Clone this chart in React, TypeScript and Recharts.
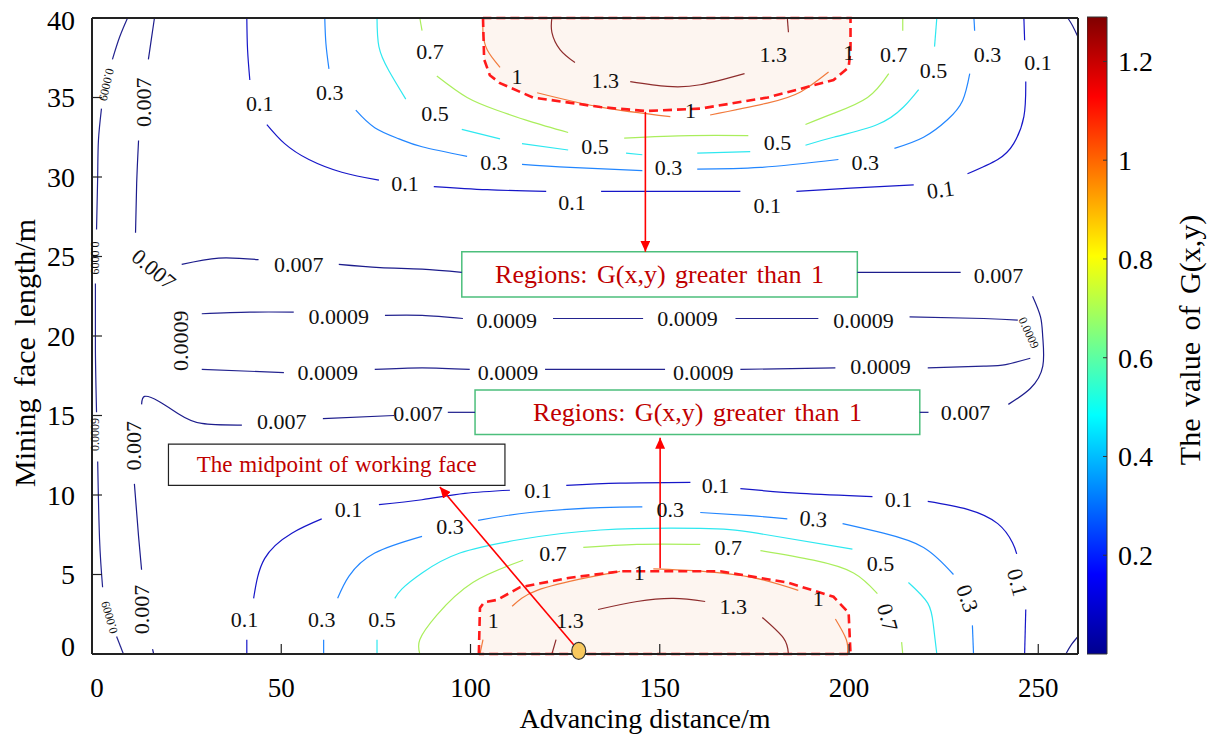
import React from 'react';
import {
  ComposedChart, BarChart, Bar, Line, Area, Scatter, XAxis, YAxis, ReferenceArea,
} from 'recharts';

type Pt = [number, number];
type Lab = [number, number, number];

const serif = '"Liberation Serif", "Times New Roman", serif';

const xTicks = [0, 50, 100, 150, 200, 250];
const yTicks = [0, 5, 10, 15, 20, 25, 30, 35, 40];
const colorTicks = [0.2, 0.4, 0.6, 0.8, 1, 1.2];
const xMax = 260.5;
const yMax = 40;
const colorMax = 1.29;

// contour pieces (advancing distance, face length)
const lines0009: Pt[][] = [
  [[9.4, 40], [7.3, 38.8], [5.4, 37.4]],
  [[2.5, 34.3], [1.7, 32.3], [1.5, 30.0], [1.2, 26.7]],
  [[0.9, 23.3], [0.9, 19.1], [1.2, 15.2]],
  [[1.5, 12.1], [2.0, 7.2], [2.8, 4.2]],
  [[6.5, 1.1], [8.3, 0]],
  [[29.0, 21.4], [41.7, 21.5], [53.3, 21.5]],
  [[77.4, 21.3], [87.2, 21.3], [98.0, 21.1]],
  [[121.8, 21.1], [145.6, 21.1]],
  [[170.0, 21.1], [191.9, 21.1]],
  [[216.0, 21.2], [235.6, 21.1], [244.6, 21.0]],
  [[247.9, 18.6], [241.4, 18.2], [235.6, 18.1], [220.8, 18.0]],
  [[196.4, 18.0], [171.3, 17.9]],
  [[151.4, 17.9], [119.7, 17.9]],
  [[99.8, 17.9], [87.2, 18.0], [74.7, 17.9]],
  [[50.7, 17.7], [29.0, 17.9]],
];
const labels0009: Lab[] = [
  [65.2, 21.2, 0], [109.6, 21.0, 0], [157.3, 21.1, 0], [203.8, 21.0, 0],
  [208.3, 18.1, 0], [161.5, 17.7, 0], [109.9, 17.7, 0], [62.3, 17.7, 0], [23.4, 19.7, -90],
];
const smallLabels0009: Lab[] = [
  [3.8, 35.8, 103], [0.9, 24.9, 90], [0.7, 13.8, -90], [4.6, 2.3, -106], [247.5, 20.2, 65],
];

const lines007: Pt[][] = [
  [[16.5, 40], [15.7, 38.7], [14.9, 37.4]],
  [[12.3, 32.3], [11.8, 29.6], [11.5, 26.5]],
  [[23.7, 24.5], [33.5, 24.9], [44.0, 24.8]],
  [[65.2, 24.5], [76.1, 24.3], [87.2, 24.2], [97.7, 24.0]],
  [[202.2, 24.0], [216.2, 24.0], [229.5, 24.0]],
  [[248.5, 22.5], [250.6, 21.2], [251.2, 19.9], [251.2, 18.1], [247.9, 16.7], [242.1, 15.7]],
  [[221.0, 15.2], [218.7, 15.2]],
  [[101.2, 15.2], [94.0, 15.2]],
  [[79.8, 15.0], [61.0, 14.8]],
  [[39.6, 14.4], [29.0, 14.5], [22.9, 15.1], [17.6, 15.9], [13.9, 16.2], [13.1, 15.7]],
  [[11.2, 10.7], [12.3, 7.4], [13.1, 5.3]],
  [[16.0, 0.3], [16.3, 0]],
  [[257.8, 40], [259.1, 39.5], [260.5, 38.8]],
  [[257.3, 0], [258.8, 0.6], [260.5, 1.1]],
];
const labels007: Lab[] = [
  [13.6, 34.7, -90], [16.3, 24.2, 40], [54.6, 24.5, 0], [239.5, 23.8, 0], [230.8, 15.2, 0],
  [86.1, 15.1, 0], [50.1, 14.6, 0], [11.0, 13.1, -90], [13.1, 2.8, -90],
];

const lines01: Pt[][] = [
  [[40.9, 40], [41.1, 38.0], [41.7, 36.1]],
  [[46.2, 33.3], [50.9, 32.1], [57.3, 31.1], [66.0, 30.3], [75.8, 29.8]],
  [[90.3, 29.4], [104.4, 29.2], [120.0, 29.1]],
  [[134.5, 29.1], [171.3, 29.1]],
  [[186.1, 29.1], [200.4, 29.3], [217.1, 29.5]],
  [[231.3, 30.2], [239.3, 31.1], [243.5, 32.1], [246.2, 33.8], [246.7, 36.0]],
  [[246.4, 38.6], [246.2, 40]],
  [[40.9, 0], [40.9, 0.9]],
  [[42.7, 3.5], [45.6, 6.0], [52.8, 7.6], [60.7, 8.5]],
  [[75.8, 9.4], [87.2, 9.7], [98.5, 10.1], [110.4, 10.3]],
  [[125.3, 10.6], [139.5, 10.75], [158.1, 10.8]],
  [[171.3, 10.4], [187.2, 10.1], [206.2, 9.9]],
  [[220.8, 9.6], [231.3, 9.1], [239.3, 8.2], [243.2, 7.0], [244.3, 6.3]],
  [[246.7, 2.8], [246.4, 0]],
];
const labels01: Lab[] = [
  [44.3, 34.6, 0], [82.7, 29.6, 0], [126.8, 28.4, 0], [178.4, 28.2, 0], [224.2, 29.2, -8],
  [249.9, 37.2, 0], [40.3, 2.2, 0], [67.8, 9.1, 0], [117.8, 10.3, 0], [164.7, 10.6, 0],
  [213.1, 9.7, 0], [244.5, 4.5, 75],
];

const lines03: Pt[][] = [
  [[61.5, 40], [61.8, 38.4], [62.6, 36.8]],
  [[69.7, 34.2], [74.7, 33.1], [81.1, 32.4], [87.2, 31.9], [99.1, 31.3]],
  [[113.6, 30.8], [126.3, 30.6], [145.4, 30.4]],
  [[159.9, 30.5], [176.6, 30.6], [197.2, 31.1]],
  [[212.0, 31.8], [219.7, 32.5], [226.0, 33.6], [230.0, 34.8], [231.9, 36.5]],
  [[233.2, 39.2], [233.0, 40]],
  [[61.2, 0], [61.2, 0.9]],
  [[64.9, 3.5], [67.9, 4.9], [74.7, 6.35], [87.2, 7.4]],
  [[102.0, 8.4], [115.7, 8.9], [134.3, 9.2], [145.4, 9.25]],
  [[160.7, 8.9], [173.9, 8.7], [183.7, 8.5]],
  [[198.3, 8.2], [209.1, 7.6], [219.7, 6.7], [227.6, 5.0]],
  [[232.6, 1.8], [232.9, 0]],
];
const labels03: Lab[] = [
  [62.8, 35.3, 0], [106.2, 30.9, 0], [152.3, 30.6, 0], [204.3, 30.9, 0], [236.6, 37.7, 0],
  [60.7, 2.2, 0], [94.6, 8.0, 0], [152.8, 9.1, 0], [190.6, 8.5, 5], [231.3, 3.5, 70],
];

const lines05: Pt[][] = [
  [[75.3, 40], [75.8, 38.2], [78.4, 36.7], [82.9, 34.9]],
  [[97.7, 33.0], [107.8, 32.4]],
  [[113.6, 32.1], [125.8, 31.7]],
  [[141.1, 31.5], [145.4, 31.4]],
  [[159.9, 31.5], [173.9, 31.6]],
  [[188.5, 32.0], [195.9, 32.5], [207.5, 33.3], [214.4, 34.4], [218.4, 35.5]],
  [[222.6, 38.2], [223.2, 40]],
  [[75.3, 0], [75.3, 0.9]],
  [[80.0, 3.5], [81.9, 4.1], [87.2, 5.1], [97.2, 6.35], [113.1, 7.2], [134.3, 7.8], [160.7, 7.9], [175.7, 7.6], [200.9, 6.6]],
  [[215.7, 4.5], [220.8, 3.2], [222.3, 1.8], [223.2, 0]],
];
const labels05: Lab[] = [
  [90.6, 34.0, 0], [132.9, 31.9, 0], [181.1, 32.2, 0], [222.3, 36.7, 0], [76.6, 2.2, 0], [208.3, 5.7, 0],
];

const lines07: Pt[][] = [
  [[86.6, 40], [87.2, 39.2]],
  [[91.1, 36.35], [99.1, 35.0], [107.0, 34.2], [115.7, 33.5], [125.8, 32.8]],
  [[140.6, 32.45], [158.1, 32.6], [173.4, 32.6]],
  [[188.5, 33.3], [195.9, 34.0], [204.9, 35.0], [210.5, 36.5]],
  [[214.2, 39.2], [214.2, 40]],
  [[86.6, 0], [86.6, 0.9], [91.1, 2.45], [100.6, 4.5], [113.9, 5.9]],
  [[129.8, 6.7], [144.0, 6.9], [160.7, 6.9]],
  [[176.6, 6.5], [190.6, 5.9], [201.2, 5.1], [207.5, 3.8]],
  [[213.9, 0.75], [214.2, 0]],
];
const labels07: Lab[] = [
  [89.3, 37.9, 0], [211.8, 37.7, 0], [121.8, 6.35, 0], [168.1, 6.7, 0], [210.2, 2.3, 75],
];

const lines1: Pt[][] = [
  [[103.3, 40], [103.3, 39.1], [104.4, 38.0], [107.8, 36.9]],
  [[117.6, 35.3], [134.3, 34.4], [152.8, 33.8]],
  [[163.3, 33.9], [178.4, 34.65], [187.2, 35.35], [194.6, 36.6]],
  [[102.5, 0], [103.3, 0.9]],
  [[111.0, 3.0], [117.6, 4.0], [130.8, 4.8], [139.5, 5.2]],
  [[148.3, 5.35], [161.5, 5.2], [174.7, 4.8], [186.6, 4.0]],
  [[196.4, 2.2], [199.3, 0.9], [199.6, 0]],
];
const labels1: Lab[] = [
  [112.3, 36.3, 0], [158.1, 34.2, 0], [199.9, 37.8, 0], [106.0, 2.1, 0], [144.6, 5.1, 0], [191.9, 3.5, 0],
];

const lines13: Pt[][] = [
  [[121.5, 40], [121.5, 39.1], [123.7, 38.0], [127.6, 37.2]],
  [[142.2, 36.0], [152.0, 35.7], [160.7, 35.8], [172.4, 36.5]],
  [[184.0, 39.1], [183.7, 40]],
  [[121.5, 0], [122.6, 0.9]],
  [[133.7, 2.8], [144.0, 3.3], [153.6, 3.5], [162.0, 3.3]],
  [[177.1, 2.3], [182.7, 1.0], [184.0, 0]],
];
const labels13: Lab[] = [
  [135.6, 36.1, 0], [180.0, 37.7, 0], [126.3, 2.1, 0], [169.4, 3.0, 0],
];

// regions where G(x,y) > 1 (dashed outlines)
const topRegion: Pt[] = [
  [103.3, 40], [103.6, 37.4], [105.1, 36.4], [107.8, 35.9], [116.5, 35.0], [134.3, 34.4],
  [146.2, 34.15], [160.7, 34.3], [178.5, 35.0], [195.9, 36.1], [199.9, 36.9], [200.4, 38.0], [200.4, 40],
];
const bottomRegion: Pt[] = [
  [102.2, 0], [102.5, 2.9], [103.6, 3.25], [107.0, 3.4], [113.1, 4.2], [126.3, 4.8], [139.6, 5.2],
  [150.1, 5.2], [166.0, 5.2], [183.7, 4.5], [195.9, 3.6], [199.9, 2.6], [200.4, 0],
];

// annotations
const midpoint: Pt = [128.6, 0.2];
const arrowTop: Pt[] = [[146.2, 34.1], [146.2, 25.3]];
const arrowBottom: Pt[] = [[150.1, 5.4], [150.1, 13.6]];
const arrowMid: Pt[] = [[128.6, 0.2], [91.9, 10.5]];
const upperBox = { x1: 97.7, x2: 202.2, y1: 22.45, y2: 25.3 };
const lowerBox = { x1: 101.2, x2: 218.7, y1: 13.8, y2: 16.6 };
const midBox = { x1: 20.2, x2: 109.1, y1: 10.6, y2: 13.2 };
const regionText = 'Regions: G(x,y) greater than 1';
const midText = 'The midpoint of working face';

const toPts = (s: Pt[]) => s.map(([x, y]) => ({ x, y }));

const contours = [
  { level: '0.0009', color: '#23238f', lines: lines0009, labels: labels0009 },
  { level: '0.007', color: '#1c1c8c', lines: lines007, labels: labels007 },
  { level: '0.1', color: '#1616c8', lines: lines01, labels: labels01 },
  { level: '0.3', color: '#2286ff', lines: lines03, labels: labels03 },
  { level: '0.5', color: '#2ee8f0', lines: lines05, labels: labels05 },
  { level: '0.7', color: '#aaee5c', lines: lines07, labels: labels07 },
  { level: '1', color: '#f27a3c', lines: lines1, labels: labels1 },
  { level: '1.3', color: '#8e2c2c', lines: lines13, labels: labels13 },
];

const labelPoints = [
  ...contours.flatMap((c) => c.labels.map(([x, y, angle]) => ({ x, y, angle, text: c.level, size: 22 }))),
  ...smallLabels0009.map(([x, y, angle]) => ({ x, y, angle, text: '0.0009', size: 12 })),
];

const jetStops: [number, string][] = [
  [0, '#00008f'], [0.125, '#0000ff'], [0.375, '#00ffff'], [0.625, '#ffff00'], [0.875, '#ff0000'], [1, '#800000'],
];

const ContourText = (props: any) => {
  const { cx, cy, payload } = props;
  if (cx == null || cy == null) return null;
  return (
    <text
      x={cx} y={cy} textAnchor="middle" dominantBaseline="central"
      fontFamily={serif} fontSize={payload.size} fill="#111"
      transform={payload.angle ? `rotate(${payload.angle} ${cx} ${cy})` : undefined}
    >
      {payload.text}
    </text>
  );
};

const MidDot = (props: any) => {
  const { cx, cy } = props;
  if (cx == null || cy == null) return null;
  return <ellipse cx={cx} cy={cy} rx={7} ry={8.5} fill="#f7c85e" stroke="#333" strokeWidth={1.2} />;
};

const boxLabel = (text: string, size: number, spacing: number) => (p: any) => {
  const vb = p.viewBox || {};
  return (
    <text
      x={vb.x + vb.width / 2} y={vb.y + vb.height / 2} textAnchor="middle" dominantBaseline="central"
      fill="#c00000" fontFamily={serif} fontSize={size} style={{ wordSpacing: spacing }}
    >
      {text}
    </text>
  );
};

// the end labels sit a little inside in the original
const XTick = (p: any) => (
  <text x={p.x + (p.payload.value === 0 ? 5 : 0)} y={p.y} dy="0.71em" textAnchor="middle" fontFamily={serif} fontSize={27} fill="#000">
    {p.payload.value}
  </text>
);
const YTick = (p: any) => (
  <text x={p.x} y={p.y + (p.payload.value === 0 ? -8 : p.payload.value === 40 ? 2 : 0)} dy="0.355em" textAnchor="end" fontFamily={serif} fontSize={28} fill="#000">
    {p.payload.value}
  </text>
);

const axisLine = { stroke: '#222', strokeWidth: 2 };
const tickLine = { stroke: '#222', strokeWidth: 1.2 };
const tickFont = { fontSize: 28, fill: '#000', fontFamily: serif };

export default function App() {
  return (
    <div style={{ position: 'absolute', left: 0, top: 0, width: 1214, height: 735, background: '#fff' }}>
      <ComposedChart width={1214} height={735} margin={{ top: 8, right: 126, bottom: 21, left: 32 }}>
        <defs>
          <marker id="redArrow" markerWidth="11" markerHeight="10" refX="11" refY="5" orient="auto" markerUnits="userSpaceOnUse">
            <path d="M0,0 L11,5 L0,10 z" fill="#ff0000" />
          </marker>
        </defs>
        <XAxis
          type="number" dataKey="x" domain={[0, xMax]} ticks={xTicks} interval={0} height={60}
          tickSize={-10} tickMargin={34} axisLine={axisLine} tickLine={tickLine} tick={<XTick />}
        />
        <XAxis
          xAxisId="top" orientation="top" type="number" domain={[0, xMax]} ticks={xTicks} interval={0}
          height={10} tickSize={-10} tick={false} axisLine={axisLine} tickLine={tickLine}
        />
        <YAxis
          type="number" dataKey="y" domain={[0, yMax]} ticks={yTicks} interval={0} width={60}
          tickSize={-10} tickMargin={27} axisLine={axisLine} tickLine={tickLine} tick={<YTick />}
        />
        <YAxis
          yAxisId="right" orientation="right" type="number" domain={[0, yMax]} ticks={yTicks} interval={0}
          width={10} tickSize={-10} tick={false} axisLine={axisLine} tickLine={tickLine}
        />

        <Area data={toPts(topRegion)} dataKey="y" baseValue={yMax} type="linear" stroke="none" fill="#fdf5f0" fillOpacity={1} isAnimationActive={false} legendType="none" />
        <Area data={toPts(bottomRegion)} dataKey="y" baseValue={0} type="linear" stroke="none" fill="#fdf5f0" fillOpacity={1} isAnimationActive={false} legendType="none" />

        {contours.flatMap((c) =>
          c.lines.map((s, i) => (
            <Line
              key={`${c.level}-${i}`} data={toPts(s)} dataKey="y" type="natural" stroke={c.color}
              strokeWidth={1.2} dot={false} activeDot={false} isAnimationActive={false} legendType="none"
            />
          )),
        )}

        <Line data={toPts([...topRegion, topRegion[0]])} dataKey="y" type="linear" stroke="#ff1a1a" strokeWidth={2.6} strokeDasharray="9 5" dot={false} activeDot={false} isAnimationActive={false} />
        <Line data={toPts([...bottomRegion, bottomRegion[0]])} dataKey="y" type="linear" stroke="#ff1a1a" strokeWidth={2.6} strokeDasharray="9 5" dot={false} activeDot={false} isAnimationActive={false} />

        <ReferenceArea {...upperBox} fill="#fff" fillOpacity={1} stroke="#4cbf7c" strokeWidth={1.5} ifOverflow="visible" label={boxLabel(regionText, 26, 3)} />
        <ReferenceArea {...lowerBox} fill="#fff" fillOpacity={1} stroke="#4cbf7c" strokeWidth={1.5} ifOverflow="visible" label={boxLabel(regionText, 26, 3)} />
        <ReferenceArea {...midBox} fill="#fff" fillOpacity={1} stroke="#222" strokeWidth={1.2} ifOverflow="visible" label={boxLabel(midText, 23, 1)} />

        <Line data={toPts(arrowTop)} dataKey="y" type="linear" stroke="#ff0000" strokeWidth={1.6} markerEnd="url(#redArrow)" dot={false} activeDot={false} isAnimationActive={false} />
        <Line data={toPts(arrowBottom)} dataKey="y" type="linear" stroke="#ff0000" strokeWidth={1.6} markerEnd="url(#redArrow)" dot={false} activeDot={false} isAnimationActive={false} />
        <Line data={toPts(arrowMid)} dataKey="y" type="linear" stroke="#ff0000" strokeWidth={1.6} markerEnd="url(#redArrow)" dot={false} activeDot={false} isAnimationActive={false} />

        <Scatter data={labelPoints} shape={ContourText} isAnimationActive={false} legendType="none" />
        <Scatter data={[{ x: midpoint[0], y: midpoint[1] }]} shape={MidDot} isAnimationActive={false} legendType="none" />
      </ComposedChart>

      <div style={{ position: 'absolute', left: 1087, top: 0 }}>
        <BarChart width={120} height={735} data={[{ name: 'G', top: colorMax }]} margin={{ top: 17, right: 40, bottom: 81, left: 0 }} barCategoryGap={0}>
          <defs>
            <linearGradient id="jet" x1="0" y1="1" x2="0" y2="0">
              {jetStops.map(([o, c]) => <stop key={o} offset={o} stopColor={c} />)}
            </linearGradient>
          </defs>
          <XAxis dataKey="name" hide />
          <YAxis
            orientation="right" type="number" domain={[0, colorMax]} ticks={colorTicks} interval={0} width={60}
            tickSize={-4} tickMargin={15} axisLine={false} tickLine={{ stroke: '#333' }} tick={tickFont}
          />
          <Bar dataKey="top" fill="url(#jet)" stroke="#333" strokeWidth={1} isAnimationActive={false} />
        </BarChart>
      </div>

      <div style={{ position: 'absolute', left: 645, top: 719, transform: 'translate(-50%, -50%)', fontFamily: serif, fontSize: 28, lineHeight: '30px', whiteSpace: 'nowrap', color: '#000' }}>
        Advancing distance/m
      </div>
      <div style={{ position: 'absolute', left: 25, top: 353, transform: 'translate(-50%, -50%) rotate(-90deg)', fontFamily: serif, fontSize: 30, whiteSpace: 'nowrap', wordSpacing: 4, color: '#000' }}>
        Mining face length/m
      </div>
      <div style={{ position: 'absolute', left: 1190, top: 340, transform: 'translate(-50%, -50%) rotate(-90deg)', fontFamily: serif, fontSize: 30, whiteSpace: 'nowrap', wordSpacing: 4, color: '#000' }}>
        The value of G(x,y)
      </div>
    </div>
  );
}
